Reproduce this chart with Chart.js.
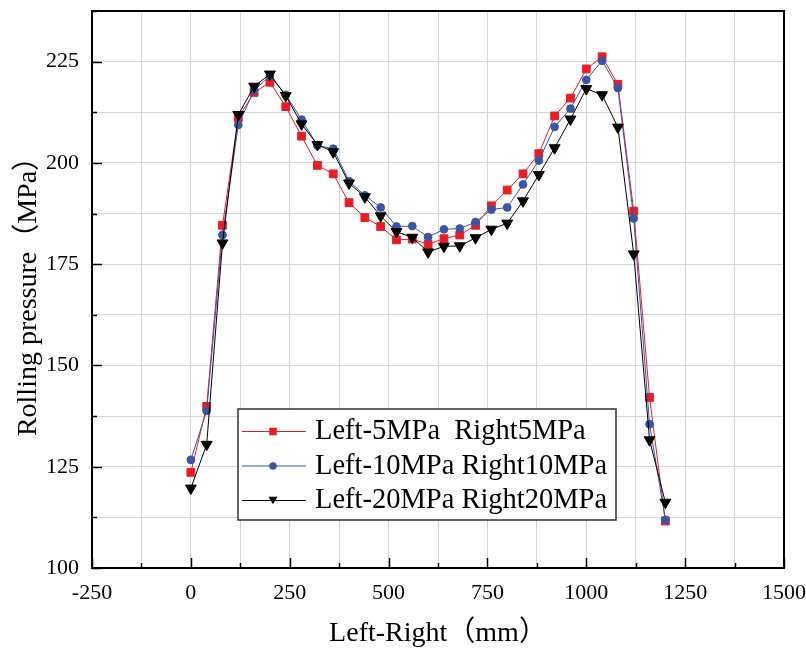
<!DOCTYPE html>
<html>
<head>
<meta charset="utf-8">
<script src="https://cdn.jsdelivr.net/npm/chart.js@4.4.1/dist/chart.umd.min.js"></script>
<style>
  html, body { margin: 0; padding: 0; background: #ffffff; }
  #wrap { width: 806px; height: 650px; }
</style>
</head>
<body>
<div id="wrap"><canvas id="c" width="806" height="650"></canvas></div>
<script>
// Measuring positions across the strip width (mm)
const positions = [0, 40, 80, 120, 160, 200, 240, 280, 320, 360, 400, 440, 480, 520, 560, 600,
                   640, 680, 720, 760, 800, 840, 880, 920, 960, 1000, 1040, 1080, 1120, 1160, 1200];

// Rolling pressure (MPa) for each tension setting
const pressure5 = [123.6, 139.9, 184.6, 211.1, 217.4, 219.9, 213.9, 206.6, 199.4, 197.3, 190.2,
                   186.5, 184.3, 181.0, 181.2, 179.9, 181.3, 182.2, 184.6, 189.4, 193.3, 197.3,
                   202.3, 211.6, 216.0, 223.2, 226.2, 219.4, 188.1, 142.1, 111.6];
const pressure10 = [126.7, 138.8, 182.2, 209.4, 217.9, 221.5, 216.8, 210.7, 204.3, 203.5, 195.5,
                    192.0, 189.0, 184.3, 184.4, 181.7, 183.6, 183.8, 185.4, 188.5, 189.0, 194.7,
                    200.6, 208.9, 213.4, 220.5, 225.2, 218.5, 186.3, 135.5, 111.9];
const pressure20 = [119.7, 130.5, 180.2, 211.9, 218.9, 221.9, 216.6, 209.6, 204.5, 202.7, 195.0,
                    191.6, 186.9, 183.0, 181.6, 178.0, 179.4, 179.5, 181.5, 183.6, 185.1, 190.6,
                    197.1, 203.7, 210.8, 218.3, 216.8, 208.8, 177.5, 131.6, 116.2];

const seriesNames = ['Left-5MPa  Right5MPa', 'Left-10MPa Right10MPa', 'Left-20MPa Right20MPa'];

// Axis ranges and tick spacing
const xRange = [-250, 1500];
const xMajorStep = 250;
const xMinorStep = 125;
const yRange = [100, 237.5];
const yMajorStep = 25;
const yMinorStep = 12.5;

const SERIF = '"Liberation Serif", "Times New Roman", "Noto Sans CJK SC", serif';

function toPoints(values) {
  return positions.map((x, i) => ({ x: x, y: values[i] }));
}

function makeSet(label, values, color, style, radius, rotation, order) {
  return {
    label: label,
    data: toPoints(values),
    borderColor: color,
    backgroundColor: color,
    borderWidth: 1,
    pointStyle: style,
    pointRadius: radius,
    pointHoverRadius: radius,
    pointRotation: rotation,
    pointBorderWidth: 1,
    pointBorderColor: color,
    pointBackgroundColor: color,
    tension: 0,
    order: order
  };
}

const datasets = [
  makeSet(seriesNames[0], pressure5, '#ec1c24', 'rect', 5.5, 0, 3),
  makeSet(seriesNames[1], pressure10, '#3a55a4', 'circle', 3.9, 0, 2),
  makeSet(seriesNames[2], pressure20, '#000000', 'triangle', 6.3, 180, 1)
];

// Frame round the plot with inward major and minor ticks
const framePlugin = {
  id: 'frameTicks',
  afterDatasetsDraw(chart) {
    const { ctx, chartArea: a, scales } = chart;
    const xs = scales.x, ys = scales.y;
    ctx.save();
    ctx.strokeStyle = '#000';
    ctx.lineWidth = 1.5;
    for (let v = xRange[0]; v <= xRange[1] + 1e-9; v += xMinorStep) {
      const px = Math.round(xs.getPixelForValue(v)) + 0.5;
      const len = (Math.abs(v % xMajorStep) < 1e-9) ? 10 : 5;
      ctx.beginPath();
      ctx.moveTo(px, a.bottom);
      ctx.lineTo(px, a.bottom - len);
      ctx.stroke();
    }
    for (let v = yRange[0]; v <= yRange[1] + 1e-9; v += yMinorStep) {
      const py = Math.round(ys.getPixelForValue(v)) + 0.5;
      const len = (Math.abs((v - yRange[0]) % yMajorStep) < 1e-9) ? 10 : 5;
      ctx.beginPath();
      ctx.moveTo(a.left, py);
      ctx.lineTo(a.left + len, py);
      ctx.stroke();
    }
    ctx.lineWidth = 2;
    ctx.strokeRect(a.left, a.top, a.right - a.left, a.bottom - a.top);
    ctx.restore();
  }
};

function drawMarker(ctx, style, x, y, size, color) {
  ctx.fillStyle = color;
  ctx.beginPath();
  if (style === 'rect') {
    ctx.rect(x - size / 2, y - size / 2, size, size);
  } else if (style === 'circle') {
    ctx.arc(x, y, size / 2, 0, Math.PI * 2);
  } else {
    const h = size * 0.85;
    ctx.moveTo(x - size / 2, y - h / 2);
    ctx.lineTo(x + size / 2, y - h / 2);
    ctx.lineTo(x, y + h / 2);
    ctx.closePath();
  }
  ctx.fill();
}

// Boxed legend inside the plot area
const boxLegendPlugin = {
  id: 'boxLegend',
  afterDraw(chart, args, opts) {
    const { ctx, chartArea: a } = chart;
    const left = a.left + opts.dx, top = a.top + opts.dy;
    ctx.save();
    ctx.fillStyle = '#fff';
    ctx.fillRect(left, top, opts.width, opts.height);
    ctx.strokeStyle = '#333';
    ctx.lineWidth = 1.5;
    ctx.strokeRect(left, top, opts.width, opts.height);
    ctx.font = opts.fontSize + 'px ' + SERIF;
    ctx.textBaseline = 'middle';
    ctx.textAlign = 'left';
    chart.data.datasets.forEach((ds, i) => {
      const cy = top + opts.firstRow + i * opts.rowGap;
      ctx.strokeStyle = ds.borderColor;
      ctx.lineWidth = 1;
      ctx.beginPath();
      ctx.moveTo(left + 4, cy + 0.5);
      ctx.lineTo(left + 68, cy + 0.5);
      ctx.stroke();
      const sizes = { rect: 7.5, circle: 7.5, triangle: 9 };
      drawMarker(ctx, ds.pointStyle, left + 35, cy + 0.5, sizes[ds.pointStyle], ds.borderColor);
      ctx.fillStyle = '#000';
      ctx.fillText(ds.label, left + 77, cy + 1);
    });
    ctx.restore();
  }
};

new Chart(document.getElementById('c'), {
  type: 'line',
  data: { datasets: datasets },
  plugins: [framePlugin, boxLegendPlugin],
  options: {
    responsive: false,
    devicePixelRatio: 1,
    animation: false,
    events: [],
    layout: { padding: { top: 11, right: 22, left: 0, bottom: 0 } },
    plugins: {
      legend: { display: false },
      tooltip: { enabled: false },
      boxLegend: { dx: 146, dy: 398, width: 378, height: 111, firstRow: 22, rowGap: 34.5, fontSize: 28.5 }
    },
    scales: {
      x: {
        type: 'linear',
        min: xRange[0],
        max: xRange[1],
        afterFit(scale) {
          scale.height = 82;
          scale.paddingLeft = 0;
          scale.paddingRight = 0;
        },
        afterBuildTicks(scale) {
          const t = [];
          for (let v = xRange[0]; v <= xRange[1] + 1e-9; v += xMinorStep) t.push({ value: v });
          scale.ticks = t;
        },
        grid: { color: '#d6d6d6', lineWidth: 1, drawTicks: false },
        border: { display: false },
        ticks: {
          autoSkip: false,
          maxRotation: 0,
          padding: 12,
          color: '#000',
          font: { family: SERIF, size: 22 },
          callback(v) { return (Math.abs(v % xMajorStep) < 1e-9) ? String(v) : ''; }
        },
        title: {
          display: true,
          text: 'Left-Right（mm）',
          color: '#000',
          font: { family: SERIF, size: 28 },
          padding: { top: 0, bottom: 0 }
        }
      },
      y: {
        type: 'linear',
        min: yRange[0],
        max: yRange[1],
        afterFit(scale) {
          scale.width = 92;
          scale.paddingTop = 0;
          scale.paddingBottom = 0;
        },
        afterBuildTicks(scale) {
          const t = [];
          for (let v = yRange[0]; v <= yRange[1] + 1e-9; v += yMinorStep) t.push({ value: v });
          scale.ticks = t;
        },
        grid: { color: '#d6d6d6', lineWidth: 1, drawTicks: false },
        border: { display: false },
        ticks: {
          autoSkip: false,
          padding: 13,
          color: '#000',
          font: { family: SERIF, size: 22 },
          callback(v) { return (Math.abs((v - yRange[0]) % yMajorStep) < 1e-9) ? String(v) : ''; }
        },
        title: {
          display: true,
          text: 'Rolling pressure（MPa）',
          color: '#000',
          font: { family: SERIF, size: 28 },
          padding: { top: 12, bottom: 0 }
        }
      }
    }
  }
});
</script>
</body>
</html>
